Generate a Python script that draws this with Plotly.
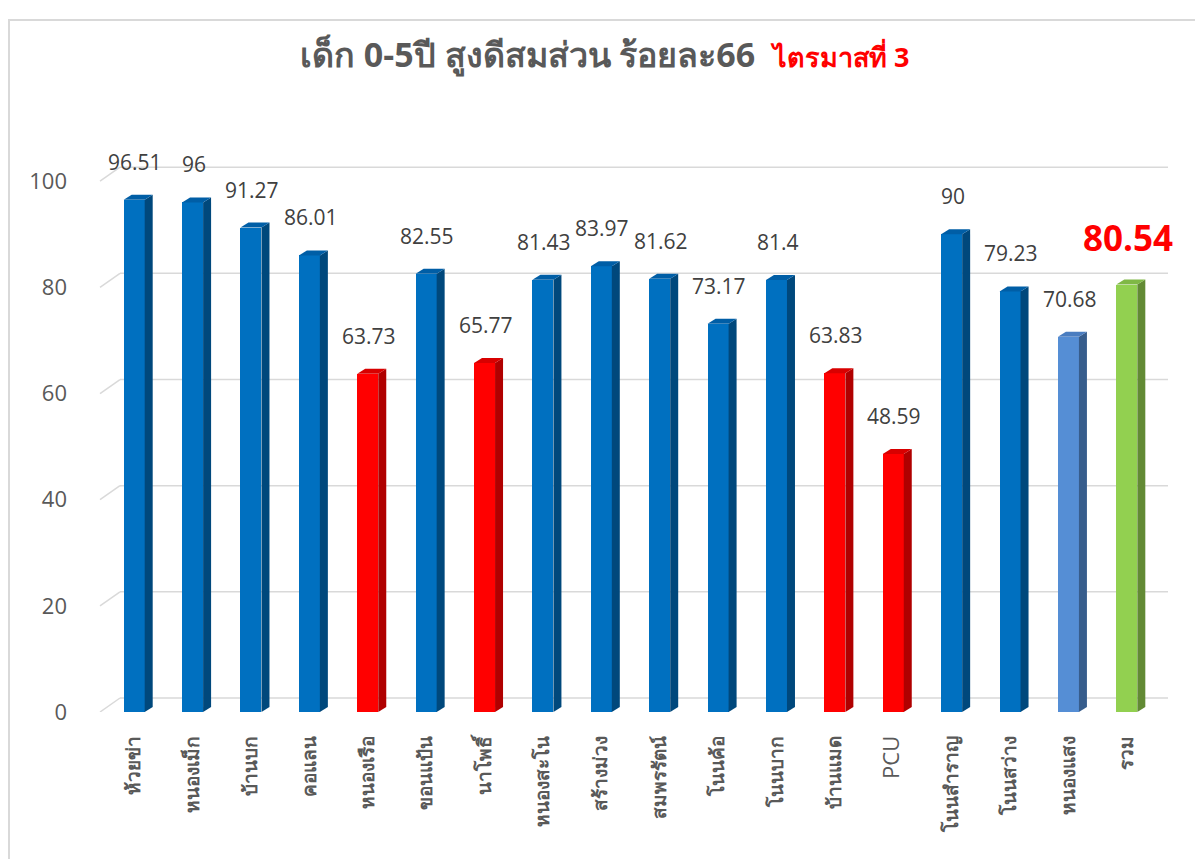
import plotly.graph_objects as go

categories = ["ห้วยข่า", "หนองเม็ก", "บ้านบก", "คอแลน", "หนองเรือ", "ขอนแป้น", "นาโพธิ์",
              "หนองสะโน", "สร้างม่วง", "สมพรรัตน์", "โนนค้อ", "โนนบาก", "บ้านแมด", "PCU",
              "โนนสำราญ", "โนนสว่าง", "หนองแสง", "รวม"]
values = [96.51, 96, 91.27, 86.01, 63.73, 82.55, 65.77, 81.43, 83.97, 81.62, 73.17,
          81.4, 63.83, 48.59, 90, 79.23, 70.68, 80.54]
labels = ["96.51", "96", "91.27", "86.01", "63.73", "82.55", "65.77", "81.43", "83.97",
          "81.62", "73.17", "81.4", "63.83", "48.59", "90", "79.23", "70.68", "80.54"]
groups = ["b", "b", "b", "b", "r", "b", "r", "b", "b", "b", "b", "b", "r", "r", "b", "b", "lb", "g"]
y_ticks = [0, 20, 40, 60, 80, 100]

front = {"b": "#0070C0", "r": "#FF0000", "lb": "#558ED5", "g": "#92D050"}
side = {"b": "#00487C", "r": "#B00000", "lb": "#375D8C", "g": "#628A34"}
top = {"b": "#005EA6", "r": "#D80000", "lb": "#4A7DC0", "g": "#7FB845"}

W, H = 1203, 859
ML, MR, MT, MB = 97, 55, 152, 155
plot_w = W - ML - MR
plot_h = H - MT - MB
hw = 0.18          # half width of front face (category units)
dx = 0.137         # bar depth in x (category units)
dy = 0.94          # bar depth in y (value units)
gdy = 2.64         # back wall offset (value units)
gdx_px = 20

x = list(range(len(categories)))
tick_text = [f"<span style='font-size:22px'>{c}</span>" if c.isascii() else f"<b>{c}</b>"
             for c in categories]

fig = go.Figure()
fig.add_trace(go.Bar(
    x=x, y=values, width=hw * 2, offset=-hw,
    marker=dict(color=[front[g] for g in groups], line=dict(width=0)),
    hoverinfo="x+y", showlegend=False,
))

shapes = []
for t in y_ticks:
    shapes.append(dict(type="line", xref="paper", yref="y",
                       x0=(gdx_px - 5) / plot_w, x1=1.0 + 12 / plot_w,
                       y0=t + gdy, y1=t + gdy, line=dict(color="#D9D9D9", width=1.5), layer="below"))
    shapes.append(dict(type="line", xref="paper", yref="y",
                       x0=-5 / plot_w, x1=(gdx_px - 5) / plot_w,
                       y0=t, y1=t + gdy, line=dict(color="#D9D9D9", width=1.5), layer="below"))

for i, (v, g) in enumerate(zip(values, groups)):
    xr = i + hw
    xl = i - hw
    shapes.append(dict(type="path", xref="x", yref="y",
                       path=f"M {xr},0 L {xr + dx},{dy} L {xr + dx},{v + dy} L {xr},{v} Z",
                       fillcolor=side[g], line=dict(width=0)))
    shapes.append(dict(type="path", xref="x", yref="y",
                       path=f"M {xl},{v} L {xl + dx},{v + dy} L {xr + dx},{v + dy} L {xr},{v} Z",
                       fillcolor=top[g], line=dict(width=0)))

# outer frame
shapes.append(dict(type="rect", xref="paper", yref="paper",
                   x0=(1 - ML) / plot_w, x1=(1260 - ML) / plot_w,
                   y0=-1.0, y1=1 + (MT - 12) / plot_h,
                   line=dict(color="#D9D9D9", width=2), fillcolor="rgba(0,0,0,0)", layer="below"))

annotations = []
for i, (v, lab, g) in enumerate(zip(values, labels, groups)):
    if g == "g":
        annotations.append(dict(x=i + 0.02, y=v, text=f"<b>{lab}</b>", showarrow=False,
                                yanchor="bottom", yshift=22,
                                font=dict(size=35, color="#FF0000", family="Open Sans, DejaVu Sans")))
    else:
        annotations.append(dict(x=i + 0.02, y=v, text=lab, showarrow=False,
                                yanchor="bottom", yshift=22,
                                font=dict(size=21, color="#404040", family="Open Sans, DejaVu Sans")))

fig.update_layout(
    width=W, height=H,
    margin=dict(l=ML, r=MR, t=MT, b=MB),
    paper_bgcolor="white", plot_bgcolor="white",
    font=dict(family="Open Sans, DejaVu Sans", color="#595959"),
    title=dict(
        text="<b>เด็ก 0-5ปี สูงดีสมส่วน ร้อยละ66  <span style='color:#FF0000;font-size:27px'>ไตรมาสที่ 3</span></b>",
        x=0.496, xref="container", xanchor="center",
        y=1 - 47 / H, yref="container", yanchor="middle",
        font=dict(size=34, color="#595959", family="Open Sans, DejaVu Sans"),
    ),
    xaxis=dict(
        tickmode="array", tickvals=x, ticktext=tick_text, tickangle=-90,
        range=[-0.5, len(categories) - 0.5], showgrid=False, zeroline=False,
        showline=False, ticks="", tickfont=dict(size=19, color="#595959"),
        ticklabelstandoff=19,
    ),
    yaxis=dict(
        range=[0, 104], tickvals=y_ticks, showgrid=False, zeroline=False,
        showline=False, ticks="", tickfont=dict(size=22, color="#595959"),
        ticklabelstandoff=37,
    ),
    shapes=shapes, annotations=annotations, bargap=0,
)

fig.write_html("out.html")
